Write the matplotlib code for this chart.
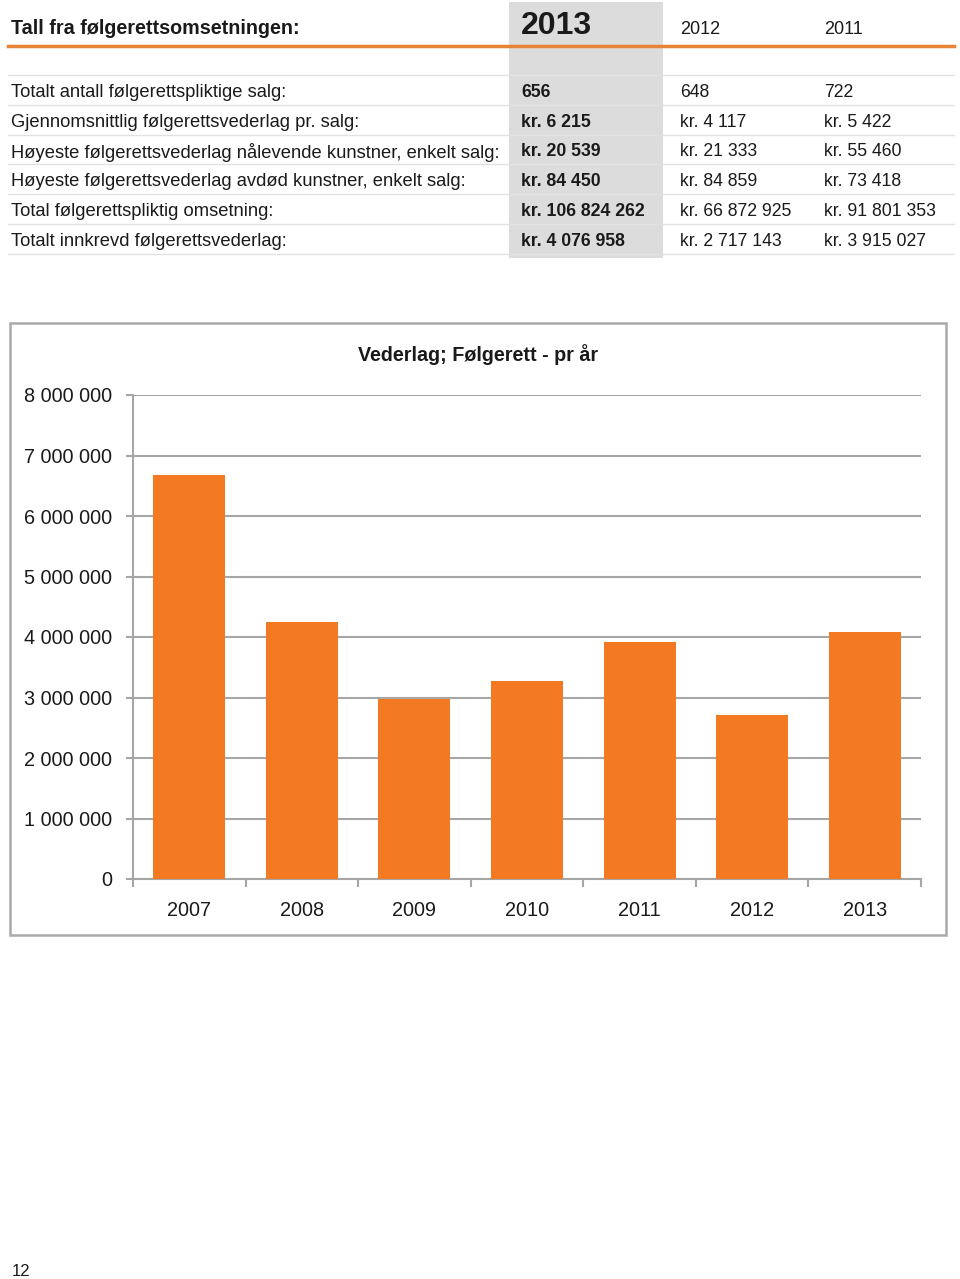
import matplotlib
matplotlib.use("Agg")
import matplotlib.pyplot as plt
from matplotlib.lines import Line2D
from matplotlib.patches import Rectangle

plt.rcParams['font.family'] = ['Liberation Sans', 'DejaVu Sans']

# table data
table_title = "Tall fra følgerettsomsetningen:"
col_years = ["2013", "2012", "2011"]
row_labels = [
    "Totalt antall følgerettspliktige salg:",
    "Gjennomsnittlig følgerettsvederlag pr. salg:",
    "Høyeste følgerettsvederlag nålevende kunstner, enkelt salg:",
    "Høyeste følgerettsvederlag avdød kunstner, enkelt salg:",
    "Total følgerettspliktig omsetning:",
    "Totalt innkrevd følgerettsvederlag:",
]
vals_2013 = ["656", "kr. 6 215", "kr. 20 539", "kr. 84 450", "kr. 106 824 262", "kr. 4 076 958"]
vals_2012 = ["648", "kr. 4 117", "kr. 21 333", "kr. 84 859", "kr. 66 872 925", "kr. 2 717 143"]
vals_2011 = ["722", "kr. 5 422", "kr. 55 460", "kr. 73 418", "kr. 91 801 353", "kr. 3 915 027"]

# chart data
years = ["2007", "2008", "2009", "2010", "2011", "2012", "2013"]
vederlag = [6680000, 4250000, 2980000, 3270000, 3915027, 2717143, 4076958]
y_ticks = [0, 1000000, 2000000, 3000000, 4000000, 5000000, 6000000, 7000000, 8000000]

W, H = 960, 1279
orange = "#F37A22"
grid_gray = "#a6a6a6"


def fx(px):
    return px / W


def fy(py):
    return 1 - py / H


fig = plt.figure(figsize=(9.6, 12.79), dpi=100)
fig.patch.set_facecolor("white")

# ---- table ----
fig.patches.append(Rectangle((fx(509), fy(258)), fx(663) - fx(509), fy(2) - fy(258),
                             transform=fig.transFigure, facecolor="#dcdcdc",
                             edgecolor="none", zorder=0))
fig.text(fx(11), fy(29), table_title, fontsize=14.2, fontweight="bold",
         va="center", ha="left", color="#1a1a1a")
fig.text(fx(521), fy(26), col_years[0], fontsize=23, fontweight="bold",
         va="center", ha="left", color="#1a1a1a")
fig.text(fx(680), fy(30), col_years[1], fontsize=13, va="center", ha="left", color="#1a1a1a")
fig.text(fx(824), fy(30), col_years[2], fontsize=13, va="center", ha="left", color="#1a1a1a")
fig.lines.append(Line2D([fx(8), fx(954)], [fy(46), fy(46)], transform=fig.transFigure,
                        color="#e8833a", lw=2.5))

row_top = 75
row_h = 29.8
for i, lab in enumerate(row_labels):
    y_line = row_top + i * row_h
    fig.lines.append(Line2D([fx(8), fx(954)], [fy(y_line), fy(y_line)],
                            transform=fig.transFigure, color="#e2e2e2", lw=1))
    yc = y_line + row_h / 2 + 2.5
    fig.text(fx(11), fy(yc), lab, fontsize=13.2, va="center", ha="left", color="#1a1a1a")
    fig.text(fx(521), fy(yc), vals_2013[i], fontsize=12.7, fontweight="bold",
             va="center", ha="left", color="#1a1a1a")
    fig.text(fx(680), fy(yc), vals_2012[i], fontsize=12.7, va="center", ha="left", color="#1a1a1a")
    fig.text(fx(824), fy(yc), vals_2011[i], fontsize=12.7, va="center", ha="left", color="#1a1a1a")
y_last = row_top + len(row_labels) * row_h
fig.lines.append(Line2D([fx(8), fx(954)], [fy(y_last), fy(y_last)],
                        transform=fig.transFigure, color="#e2e2e2", lw=1))

# ---- chart frame ----
fig.patches.append(Rectangle((fx(10), fy(935)), fx(946) - fx(10), fy(323) - fy(935),
                             transform=fig.transFigure, facecolor="none",
                             edgecolor="#a9a9a9", lw=1.8, zorder=0))
fig.text(fx(478), fy(355), "Vederlag; Følgerett - pr år", fontsize=14.2,
         fontweight="bold", ha="center", va="center", color="#1a1a1a")

ax = fig.add_axes([fx(133), fy(879), fx(921) - fx(133), fy(395) - fy(879)])
x = list(range(len(years)))
ax.bar(x, vederlag, width=0.64, color=orange, zorder=3)
ax.set_xlim(-0.5, len(years) - 0.5)
ax.set_ylim(0, 8000000)
ax.set_yticks(y_ticks)
ax.set_yticklabels([f"{v:,}".replace(",", " ") for v in y_ticks], fontsize=14.3)
ax.set_xticks([i - 0.5 for i in range(len(years) + 1)])
ax.set_xticklabels([])
ax.set_xticks(x, minor=True)
ax.set_xticklabels(years, minor=True, fontsize=14.3)
ax.tick_params(axis="x", which="minor", length=0, pad=16)
ax.tick_params(axis="x", which="major", length=6, color=grid_gray, width=1.5, direction="out")
ax.tick_params(axis="y", length=5, color=grid_gray, width=1.5, pad=10)
ax.grid(axis="y", color=grid_gray, lw=1.5, zorder=0)
for s in ["top", "right"]:
    ax.spines[s].set_visible(False)
for s in ["left", "bottom"]:
    ax.spines[s].set_color(grid_gray)
    ax.spines[s].set_linewidth(1.5)
for lab in ax.get_yticklabels() + ax.get_xticklabels(minor=True):
    lab.set_color("#1a1a1a")

fig.text(fx(12), fy(1271), "12", fontsize=12, va="center", ha="left", color="#1a1a1a")

fig.savefig("out.png", dpi=100)
